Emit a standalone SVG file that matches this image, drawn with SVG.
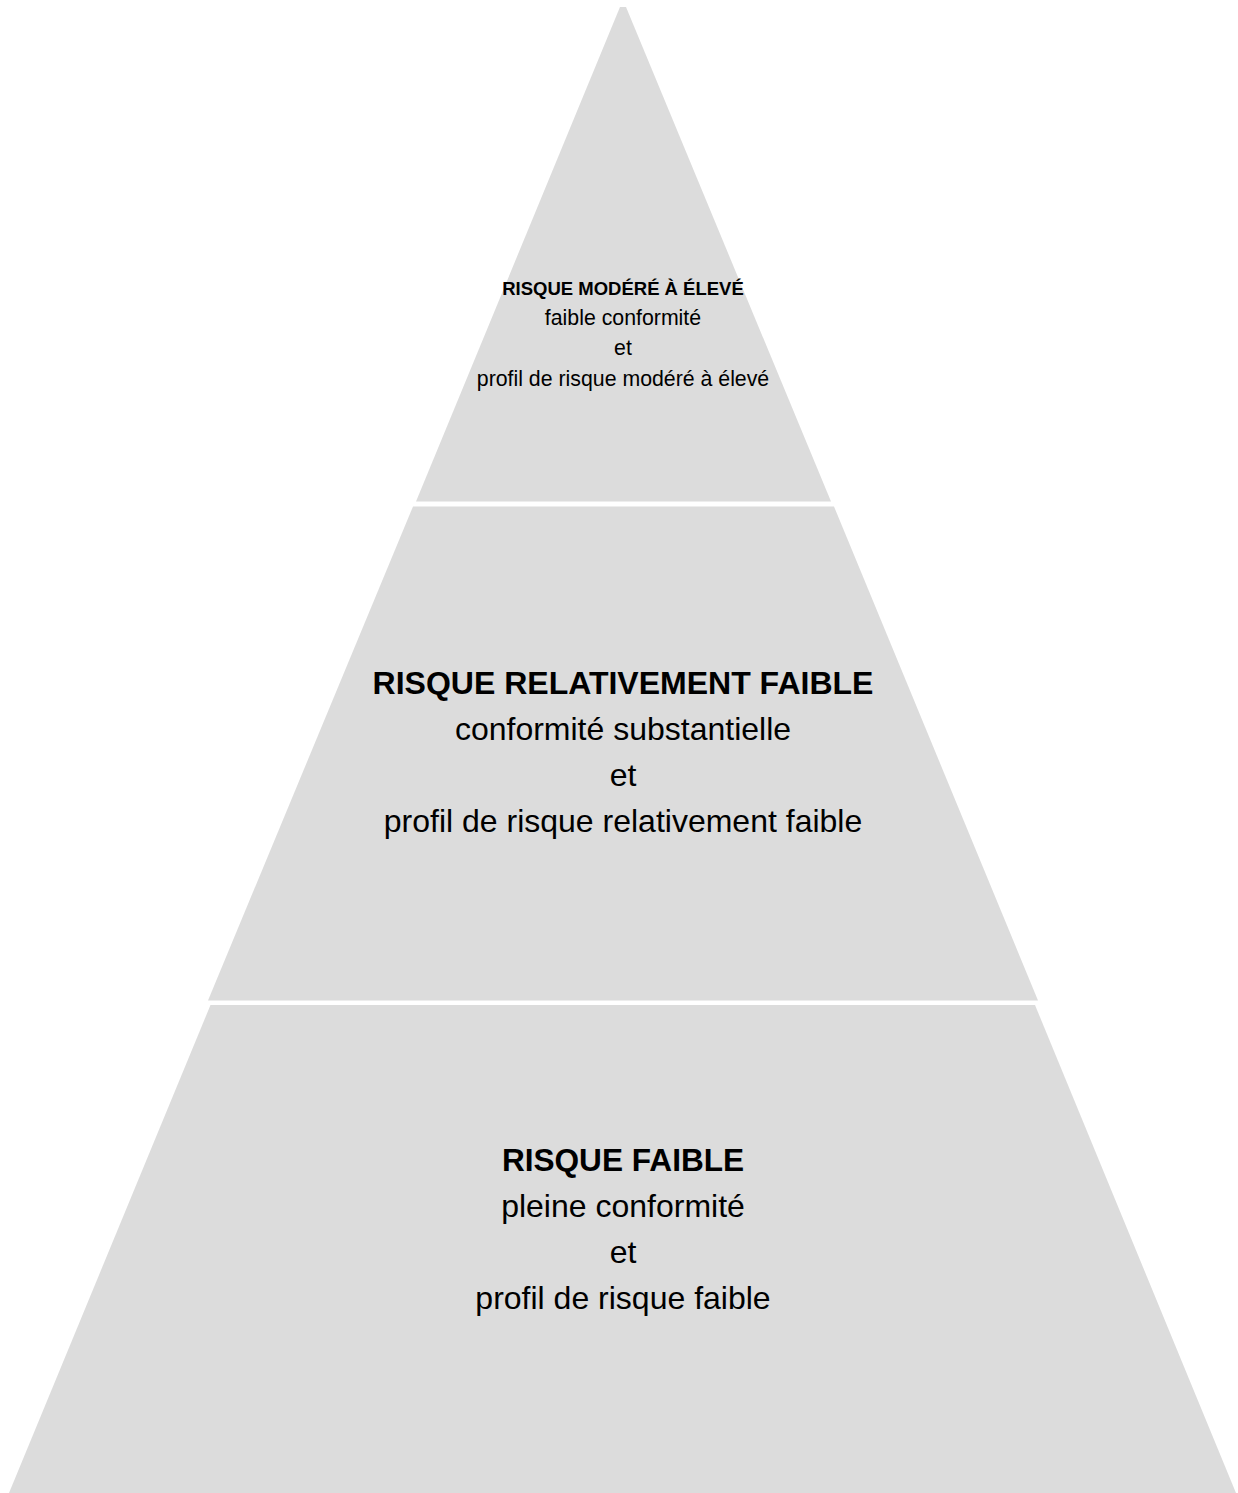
<svg xmlns="http://www.w3.org/2000/svg" width="1238" height="1493" viewBox="0 0 1238 1493">
<style>
.seg{fill:#dcdcdc;stroke:none}
text{font-family:"Liberation Sans",Arial,Helvetica,sans-serif;fill:#000;text-anchor:middle}
.b{font-weight:bold}
.t1{font-size:18.5px}
.t2{font-size:21.3px}
.m1{font-size:31.6px}
.m0{font-size:32px}
.m2{font-size:32px}
</style>
<rect width="1238" height="1493" fill="#ffffff"/>
<g id="top">
<polygon class="seg" points="620,7 626,7 831,501.5 416,501.5"/>
<text class="b t1" x="623" y="295">RISQUE MODÉRÉ À ÉLEVÉ</text>
<text class="t2" x="623" y="325">faible conformité</text>
<text class="t2" x="623" y="355">et</text>
<text class="t2" x="623" y="386">profil de risque modéré à élevé</text>
</g>
<g id="middle">
<polygon class="seg" points="413,506.5 834,506.5 1038,1000.5 208,1000.5"/>
<text class="b m0" x="623" y="694">RISQUE RELATIVEMENT FAIBLE</text>
<text class="m2" x="623" y="740">conformité substantielle</text>
<text class="m2" x="623" y="786">et</text>
<text class="m2" x="623" y="832">profil de risque relativement faible</text>
</g>
<g id="bottom">
<polygon class="seg" points="210.5,1005 1035,1005 1236,1493 9,1493"/>
<text class="b m1" x="623" y="1171">RISQUE FAIBLE</text>
<text class="m2" x="623" y="1217">pleine conformité</text>
<text class="m2" x="623" y="1263">et</text>
<text class="m2" x="623" y="1309">profil de risque faible</text>
</g>
<g id="connectors"></g>
</svg>
